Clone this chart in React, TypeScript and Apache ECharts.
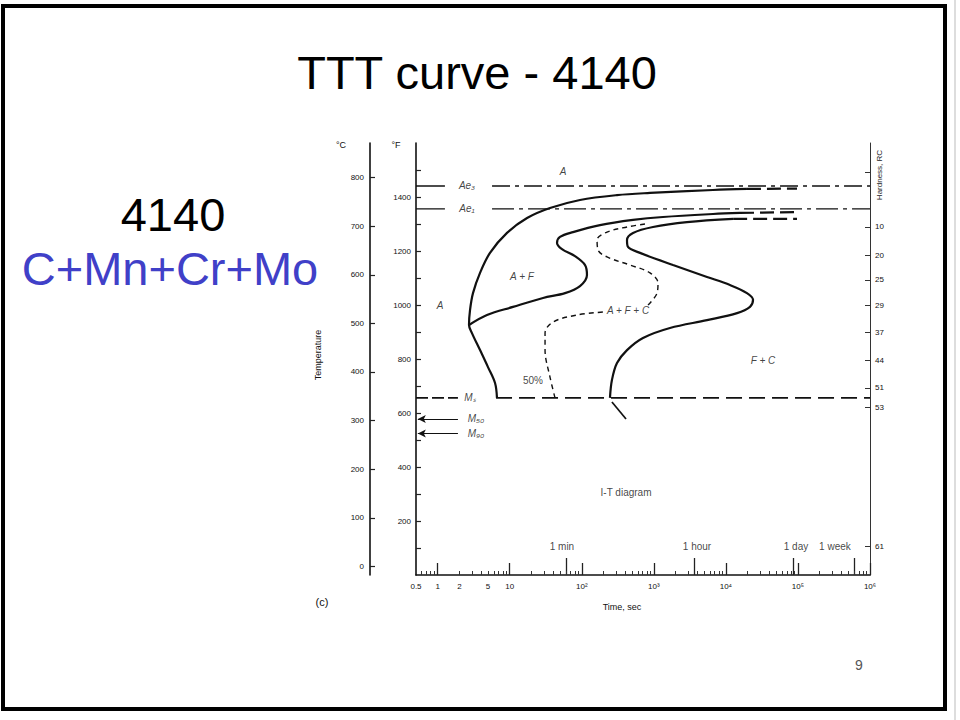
import React, { useEffect, useRef } from "react";
import * as echarts from "echarts";

// ---- axis ticks & labels ----
const xLabelValues = [0.5, 1, 2, 5, 10, 100, 1000, 10000, 100000, 1000000];
const xLabelTexts = ["0.5", "1", "2", "5", "10", "10²", "10³", "10⁴", "10⁵", "10⁶"];
const xMajorTicks = [1, 10, 100, 1000, 10000, 100000, 1000000];
const timeMarkTicks = [60, 3600, 86400, 604800];
const fTickValues = [100, 200, 300, 400, 500, 600, 700, 800, 900, 1000, 1100, 1200, 1300, 1400, 1500];
const fLabelValues = [200, 400, 600, 800, 1000, 1200, 1400];
const cLabelValues = [0, 100, 200, 300, 400, 500, 600, 700, 800];
const hardnessPositionsF = [1493, 1289, 1185, 1093, 1000, 900, 796, 693, 622, 107];
const hardnessLabels = ["", "10", "20", "25", "29", "37", "44", "51", "53", "61"];

// ---- critical temperatures (°F) ----
const aeUpperF = 1441;
const aeLowerF = 1356;
const msF = 656;
const m50F = 578;
const m90F = 524;

// ---- transformation curves: [time s, temp °F] ----
const startCurve = [[6.65, 656], [6.25, 711], [4.99, 770], [3.87, 833], [2.99, 896], [2.72, 926], [2.81, 981], [3.09, 1044], [3.87, 1119], [5.32, 1193], [9.16, 1267], [17.4, 1322], [36.2, 1359], [94.4, 1389], [308, 1407], [885, 1415], [6620, 1426], [19600, 1430]];
const startCurveDashed = [[19600, 1430], [97000, 1431]];
const ferriteCurve = [[2.72, 926], [4.83, 963], [11.1, 993], [29.0, 1026], [58.5, 1044], [94.4, 1070], [118, 1111], [111, 1148], [80.5, 1181], [53.1, 1207], [45.3, 1230], [49.8, 1252], [75.5, 1270], [179, 1296], [514, 1315], [1340, 1326], [6620, 1337], [15700, 1341]];
const ferriteCurveDashed = [[15700, 1341], [97000, 1344]];
const halfCurveLower = [[42.5, 656], [36.2, 733], [30.9, 833], [30.9, 896], [39.9, 937], [85.9, 963], [197, 974]];
const halfCurveUpper = [[830, 1000], [1106, 1044], [1142, 1081], [885, 1119], [467, 1148], [224, 1178], [168, 1204], [163, 1241], [224, 1270], [424, 1289], [754, 1300]];
const finishCurve = [[246, 656], [262, 722], [308, 785], [424, 833], [707, 878], [1675, 915], [5470, 944], [14300, 970], [21600, 993], [23800, 1019], [19600, 1044], [11400, 1074], [5470, 1104], [1845, 1148], [643, 1193], [438, 1215], [424, 1241], [514, 1267], [973, 1289], [2880, 1307], [12600, 1319]];
const finishCurveDashed = [[12600, 1319], [97000, 1319]];
const finishTail = [[262, 641], [411, 578]];

// ---- line breaks around labels (time, s) ----
const aeSolidEnd = 1.26;
const aeDashStart = 5.68;
const msSolidEnd = 1.91;
const msDashStart = 6.45;
const arrowStart = 0.53;
const arrowEnd = 1.91;

// ---- annotation labels: [text, time s, temp °F, italic] ----
const annotations: [string, number, number, boolean][] = [
  ["A", 54.8, 1493, true],
  ["A", 1.08, 1000, true],
  ["A + F", 14.8, 1104, true],
  ["A + F + C", 438, 981, true],
  ["F + C", 32700, 796, true],
  ["50%", 21.0, 719, false],
  ["I-T diagram", 411, 304, false],
  ["Ae₃", 2.55, aeUpperF, true],
  ["Ae₁", 2.55, aeLowerF, true],
  ["Mₛ", 2.81, msF, true],
  ["M₅₀", 3.4, m50F, true],
  ["M₉₀", 3.4, m90F, true],
  ["1 min", 53, 107, false],
  ["1 hour", 3970, 107, false],
  ["1 day", 94000, 107, false],
  ["1 week", 326000, 107, false],
];

const lx = (t: number) => Math.log10(t);
const toXY = (pts: number[][]) => pts.map(([t, f]) => [lx(t), f]);

function buildMinorTicks() {
  const out: number[] = [];
  for (let e = -1; e <= 5; e++) {
    for (let k = 2; k <= 9; k++) {
      const v = k * Math.pow(10, e);
      if (v > 0.5 && v < 1e6) out.push(lx(v));
    }
  }
  return out;
}

const INK = "#111111";
const FONT = "'Liberation Sans', Arial, sans-serif";

function lineSeries(pts: number[][], dash: any, width: number, smooth: number | boolean) {
  return {
    type: "line",
    data: toXY(pts),
    xAxisIndex: 0,
    yAxisIndex: 0,
    showSymbol: false,
    symbol: "none",
    smooth,
    silent: true,
    z: 3,
    lineStyle: { color: INK, width, type: dash },
  };
}

export default function App() {
  const ref = useRef<HTMLDivElement>(null);
  useEffect(() => {
    if (!ref.current) return;
    const chart = echarts.init(ref.current, undefined, { renderer: "svg" });
    const xMin = lx(0.5);
    const xMax = 6;
    const xFmt = (v: number) => {
      const i = xLabelValues.findIndex((x) => Math.abs(lx(x) - v) < 1e-6);
      return i >= 0 ? xLabelTexts[i] : "";
    };
    const hFmt = (v: number) => {
      const i = hardnessPositionsF.findIndex((x) => Math.abs(x - v) < 1e-6);
      return i >= 0 ? hardnessLabels[i] : "";
    };
    const plainFmt = (v: number) => String(Math.round(v));
    const axisLabelBase = { fontSize: 9, color: "#111", fontFamily: FONT };
    const xBase = {
      type: "value",
      min: xMin,
      max: xMax,
      gridIndex: 0,
      position: "bottom",
      splitLine: { show: false },
    };
    const option: any = {
      animation: false,
      backgroundColor: "#ffffff",
      grid: { left: 416, top: 143, width: 454, height: 432, containLabel: false, outerBoundsMode: "none" },
      xAxis: [
        {
          ...xBase,
          axisLine: { show: true, onZero: false, lineStyle: { color: INK, width: 1.6 } },
          axisTick: { show: true, inside: true, length: 12, customValues: xMajorTicks.map(lx), lineStyle: { color: "#222", width: 1.3 } },
          axisLabel: { ...axisLabelBase, fontSize: 8, show: true, margin: 7, customValues: xLabelValues.map(lx), formatter: xFmt },
        },
        {
          ...xBase,
          axisLine: { show: false, onZero: false },
          axisTick: { show: true, inside: true, length: 17, customValues: timeMarkTicks.map(lx), lineStyle: { color: "#222", width: 1.3 } },
          axisLabel: { show: false },
        },
        {
          ...xBase,
          axisLine: { show: false, onZero: false },
          axisTick: { show: true, inside: true, length: 4, customValues: buildMinorTicks(), lineStyle: { color: "#333", width: 1 } },
          axisLabel: { show: false },
        },
      ],
      yAxis: [
        {
          type: "value",
          min: 0,
          max: 1600,
          position: "left",
          offset: 0,
          axisLine: { show: true, onZero: false, lineStyle: { color: INK, width: 1.6 } },
          axisTick: { show: true, inside: true, length: 5, customValues: fTickValues, lineStyle: { color: "#222", width: 1.2 } },
          axisLabel: { ...axisLabelBase, fontSize: 8, margin: 5, customValues: fLabelValues, formatter: plainFmt },
          splitLine: { show: false },
        },
        {
          type: "value",
          min: ((0 - 32) * 5) / 9,
          max: ((1600 - 32) * 5) / 9,
          position: "left",
          offset: 46,
          axisLine: { show: true, onZero: false, lineStyle: { color: INK, width: 1.6 } },
          axisTick: { show: true, inside: true, length: 5, customValues: cLabelValues, lineStyle: { color: "#222", width: 1.2 } },
          axisLabel: { ...axisLabelBase, fontSize: 8, margin: 6, customValues: cLabelValues, formatter: plainFmt },
          splitLine: { show: false },
        },
        {
          type: "value",
          min: 0,
          max: 1600,
          position: "right",
          offset: 0,
          axisLine: { show: true, onZero: false, lineStyle: { color: "#333", width: 1 } },
          axisTick: { show: true, inside: true, length: 5, customValues: hardnessPositionsF, lineStyle: { color: "#333" } },
          axisLabel: { ...axisLabelBase, fontSize: 8, margin: 5, customValues: hardnessPositionsF.filter((_, i) => hardnessLabels[i] !== ""), formatter: hFmt },
          splitLine: { show: false },
        },
      ],
      series: [
        lineSeries([[0.5, aeUpperF], [aeSolidEnd, aeUpperF]], "solid", 1.4, false),
        lineSeries([[aeDashStart, aeUpperF], [1e6, aeUpperF]], [18, 5, 4, 5], 1.6, false),
        lineSeries([[0.5, aeLowerF], [aeSolidEnd, aeLowerF]], "solid", 1.4, false),
        lineSeries([[aeDashStart, aeLowerF], [1e6, aeLowerF]], [22, 5, 4, 5], 1.4, false),
        lineSeries([[0.5, msF], [msSolidEnd, msF]], [12, 4], 1.9, false),
        lineSeries([[msDashStart, msF], [1e6, msF]], [16, 7], 1.7, false),
        lineSeries(startCurve, "solid", 2.2, 0.35),
        lineSeries(startCurveDashed, [14, 6], 2.2, false),
        lineSeries(ferriteCurve, "solid", 2.2, 0.35),
        lineSeries(ferriteCurveDashed, [14, 6], 2.2, false),
        lineSeries(halfCurveLower, [5, 4], 1.4, 0.35),
        lineSeries(halfCurveUpper, [5, 4], 1.4, 0.35),
        lineSeries(finishCurve, "solid", 2.2, 0.35),
        lineSeries(finishCurveDashed, [14, 6], 2.4, false),
        lineSeries(finishTail, "solid", 1.7, false),
        {
          type: "scatter",
          xAxisIndex: 0,
          yAxisIndex: 0,
          symbolSize: 1,
          silent: true,
          z: 5,
          itemStyle: { color: "rgba(0,0,0,0)" },
          data: annotations.map(([text, t, f, italic]) => ({
            name: text,
            value: [lx(t), f],
            label: {
              show: true,
              position: "inside",
              formatter: text,
              fontSize: 10,
              fontStyle: italic ? "italic" : "normal",
              fontFamily: FONT,
              color: "#111",
            },
          })),
          markLine: {
            silent: true,
            symbol: ["arrow", "none"],
            symbolSize: [6, 8],
            label: { show: false },
            lineStyle: { color: INK, width: 1.1, type: "solid" },
            data: [
              [{ coord: [lx(arrowStart), m50F] }, { coord: [lx(arrowEnd), m50F] }],
              [{ coord: [lx(arrowStart), m90F] }, { coord: [lx(arrowEnd), m90F] }],
            ],
          },
        },
      ],
      graphic: [
        { type: "rect", shape: { x: 3, y: 6, width: 942, height: 703 }, style: { fill: "none", stroke: "#000", lineWidth: 4 } },
        { type: "line", shape: { x1: 955, y1: 0, x2: 955, y2: 720 }, style: { stroke: "#bbb", lineWidth: 1 } },
        { type: "text", x: 477, y: 72, style: { text: "TTT curve - 4140", font: `47px ${FONT}`, fill: "#000", align: "center", verticalAlign: "middle" } },
        { type: "text", x: 173, y: 214, style: { text: "4140", font: `47px ${FONT}`, fill: "#000", align: "center", verticalAlign: "middle" } },
        { type: "text", x: 170, y: 268, style: { text: "C+Mn+Cr+Mo", font: `47px ${FONT}`, fill: "#4040c8", align: "center", verticalAlign: "middle" } },
        { type: "text", x: 341, y: 145, style: { text: "°C", font: `9px ${FONT}`, fill: "#111", align: "center", verticalAlign: "middle" } },
        { type: "text", x: 396, y: 145, style: { text: "°F", font: `9px ${FONT}`, fill: "#111", align: "center", verticalAlign: "middle" } },
        { type: "text", x: 318, y: 355, rotation: Math.PI / 2, style: { text: "Temperature", font: `9px ${FONT}`, fill: "#111", align: "center", verticalAlign: "middle" } },
        { type: "text", x: 879, y: 175, rotation: Math.PI / 2, style: { text: "Hardness, RC", font: `8px ${FONT}`, fill: "#222", align: "center", verticalAlign: "middle" } },
        { type: "text", x: 322, y: 602, style: { text: "(c)", font: `11px ${FONT}`, fill: "#111", align: "center", verticalAlign: "middle" } },
        { type: "text", x: 622, y: 607, style: { text: "Time, sec", font: `9px ${FONT}`, fill: "#111", align: "center", verticalAlign: "middle" } },
        { type: "text", x: 859, y: 665, style: { text: "9", font: `14px ${FONT}`, fill: "#555", align: "center", verticalAlign: "middle" } },
      ],
    };
    chart.setOption(option);
    return () => chart.dispose();
  }, []);
  return <div ref={ref} style={{ position: "fixed", left: 0, top: 0, width: 960, height: 720 }} />;
}
